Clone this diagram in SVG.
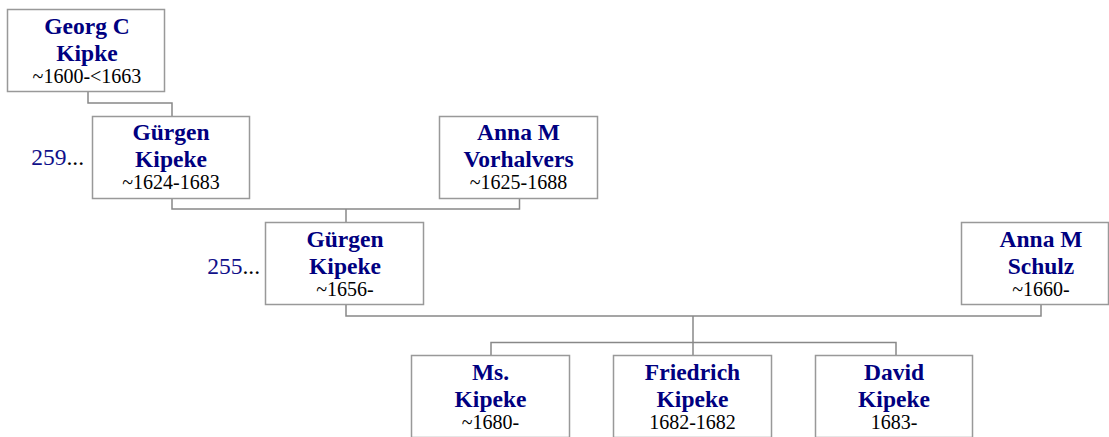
<svg xmlns="http://www.w3.org/2000/svg" width="1109" height="437" viewBox="0 0 1109 437">
<style>
  .box { fill: #ffffff; stroke: #999999; stroke-width: 1.5; }
  .conn { fill: none; stroke: #888888; stroke-width: 1.5; }
  .name { font-family: "Liberation Serif", "Times New Roman", serif; font-weight: bold; font-size: 23.5px; fill: #000080; text-anchor: middle; }
  .date { font-family: "Liberation Serif", "Times New Roman", serif; font-size: 20px; fill: #000000; text-anchor: middle; }
  .ref { font-family: "Liberation Serif", "Times New Roman", serif; font-size: 23.5px; fill: #10108a; text-anchor: end; }
  .dots { fill: #000000; }
</style>
<rect width="1109" height="437" fill="#ffffff"/>
<g id="connectors">
  <polyline class="conn" points="88,91 88,103 172,103 172,116"/>
  <polyline class="conn" points="172,199 172,209 519.5,209 519.5,199"/>
  <polyline class="conn" points="346,209 346,222"/>
  <polyline class="conn" points="346,305 346,316 1041,316 1041,305"/>
  <polyline class="conn" points="693,316 693,355"/>
  <polyline class="conn" points="491,355 491,342.5 896,342.5 896,355"/>
</g>
<g id="georg">
  <rect class="box" x="7.5" y="9.5" width="157" height="82"/>
  <text class="name" x="87" y="33.5">Georg C</text>
  <text class="name" x="87" y="60.5">Kipke</text>
  <text class="date" x="87" y="83">~1600-&lt;1663</text>
</g>
<g id="guergen1">
  <rect class="box" x="92.5" y="116.5" width="157" height="82"/>
  <text class="name" x="171" y="140">Gürgen</text>
  <text class="name" x="171" y="167">Kipeke</text>
  <text class="date" x="171" y="189">~1624-1683</text>
  <text class="ref" x="84" y="165">259<tspan class="dots">...</tspan></text>
</g>
<g id="annaVorhalvers">
  <rect class="box" x="439.5" y="116.5" width="158" height="82"/>
  <text class="name" x="518.5" y="140">Anna M</text>
  <text class="name" x="518.5" y="167">Vorhalvers</text>
  <text class="date" x="518.5" y="189">~1625-1688</text>
</g>
<g id="guergen2">
  <rect class="box" x="265.5" y="222.5" width="158" height="82"/>
  <text class="name" x="345" y="246.5">Gürgen</text>
  <text class="name" x="345" y="273.5">Kipeke</text>
  <text class="date" x="345" y="295.5">~1656-</text>
  <text class="ref" x="260" y="274">255<tspan class="dots">...</tspan></text>
</g>
<g id="annaSchulz">
  <rect class="box" x="961.5" y="222.5" width="147" height="82"/>
  <text class="name" x="1041" y="246.5">Anna M</text>
  <text class="name" x="1041" y="273.5">Schulz</text>
  <text class="date" x="1041" y="295.5">~1660-</text>
</g>
<g id="ms">
  <rect class="box" x="411.5" y="355.5" width="158" height="82"/>
  <text class="name" x="490.5" y="380">Ms.</text>
  <text class="name" x="490.5" y="407">Kipeke</text>
  <text class="date" x="490.5" y="429">~1680-</text>
</g>
<g id="friedrich">
  <rect class="box" x="613.5" y="355.5" width="158" height="82"/>
  <text class="name" x="692.5" y="380">Friedrich</text>
  <text class="name" x="692.5" y="407">Kipeke</text>
  <text class="date" x="692.5" y="429">1682-1682</text>
</g>
<g id="david">
  <rect class="box" x="815.5" y="355.5" width="157" height="82"/>
  <text class="name" x="894" y="380">David</text>
  <text class="name" x="894" y="407">Kipeke</text>
  <text class="date" x="894" y="429">1683-</text>
</g>
</svg>
